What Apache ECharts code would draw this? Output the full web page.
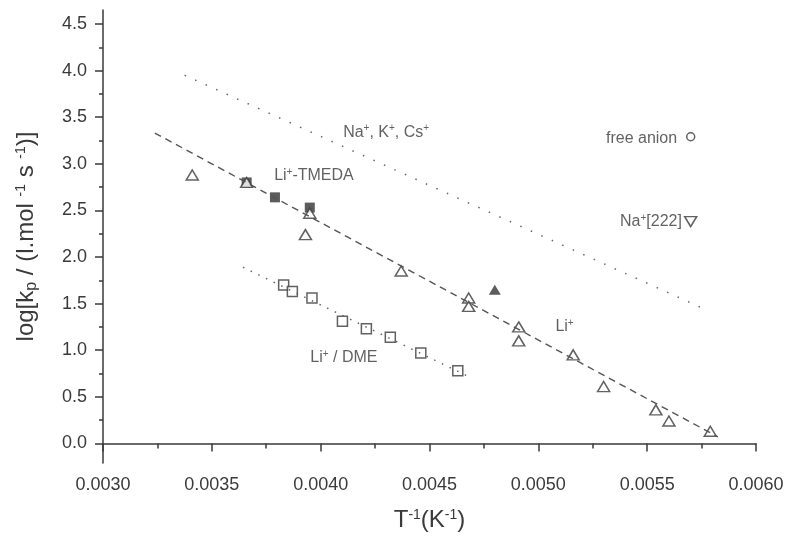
<!DOCTYPE html>
<html>
<head>
<meta charset="utf-8">
<script src="https://cdn.jsdelivr.net/npm/echarts@6/dist/echarts.min.js"></script>
<style>html,body{margin:0;padding:0;background:#fff;}#c{width:789px;height:538px;}</style>
</head>
<body>
<div id="c"></div>
<script>
// ---- data ----
const xTicks = [0.0030, 0.0035, 0.0040, 0.0045, 0.0050, 0.0055, 0.0060];
const yTicks = [0.0, 0.5, 1.0, 1.5, 2.0, 2.5, 3.0, 3.5, 4.0, 4.5];
const yMinorTicks = [0.25, 0.75, 1.25, 1.75, 2.25, 2.75, 3.25, 3.75, 4.25];

const liX = [0.00341, 0.00366, 0.00395, 0.00393, 0.00437, 0.00468, 0.00468, 0.00491, 0.00491, 0.00516, 0.00530, 0.00554, 0.00560, 0.00579];
const liY = [2.88, 2.80, 2.47, 2.24, 1.85, 1.56, 1.47, 1.25, 1.10, 0.95, 0.61, 0.36, 0.24, 0.13];

const liFilledX = [0.00480];
const liFilledY = [1.65];

const tmedaX = [0.00366, 0.00379, 0.00395];
const tmedaY = [2.80, 2.64, 2.53];

const dmeX = [0.00383, 0.00387, 0.00396, 0.00410, 0.00421, 0.00432, 0.00446, 0.00463];
const dmeY = [1.70, 1.63, 1.56, 1.31, 1.23, 1.14, 0.97, 0.78];

const freeAnionX = [0.00570];
const freeAnionY = [3.29];

const na222X = [0.00570];
const na222Y = [2.38];

const fitLiX = [0.003238, 0.005825];
const fitLiY = [3.33, 0.07];
const fitDmeX = [0.003643, 0.004677];
const fitDmeY = [1.89, 0.72];
const fitNaX = [0.003375, 0.005756];
const fitNaY = [3.95, 1.45];

const labelTexts = ['Na{sup|+}, K{sup|+}, Cs{sup|+}', 'Li{sup|+}-TMEDA', 'free anion', 'Na{sup|+}[222]', 'Li{sup|+}', 'Li{sup|+} / DME'];
const labelX = [0.004101, 0.003784, 0.005640, 0.005662, 0.005076, 0.003950];
const labelY = [3.34, 2.876, 3.27, 2.38, 1.257, 0.92];
const labelSide = ['right', 'right', 'left', 'left', 'right', 'right'];

// ---- helpers ----
const zip = (xs, ys) => xs.map((x, i) => [x, ys[i]]);
const INK = '#3a3a3a';
const FONT = '"Liberation Sans", Arial, sans-serif';
const supRich = {
  sup: { fontSize: 10, fontFamily: FONT, color: INK, padding: [0, 0, 7, 0] }
};

const chart = echarts.init(document.getElementById('c'), null, { renderer: 'canvas' });

const openStyle = { color: '#fff', borderColor: INK, borderWidth: 1.5 };

chart.setOption({
  animation: false,
  backgroundColor: '#fff',
  grid: { left: 103, right: 33, top: 10, bottom: 75, containLabel: false },
  xAxis: {
    type: 'value',
    min: xTicks[0], max: xTicks[xTicks.length - 1], interval: 0.0005,
    splitLine: { show: false },
    axisLine: { show: true, lineStyle: { color: INK, width: 1.5 } },
    axisTick: { show: true, inside: false, length: 8, lineStyle: { color: INK, width: 1.5 } },
    minorTick: { show: true, splitNumber: 2, length: 5, lineStyle: { color: INK, width: 1.5 } },
    axisLabel: { color: INK, fontSize: 18, fontFamily: FONT, margin: 13, formatter: v => v.toFixed(4) },
    name: 'T{sup|-1}(K{sup|-1})',
    nameLocation: 'middle', nameGap: 45,
    nameTextStyle: { color: INK, fontSize: 24, fontFamily: FONT, rich: { sup: { fontSize: 14, fontFamily: FONT, color: INK, padding: [0, 0, 10, 0] } } }
  },
  yAxis: [{
    type: 'value', min: -0.21, max: 4.65,
    splitLine: { show: false },
    axisLine: { show: true, lineStyle: { color: INK, width: 1.5 } },
    axisTick: { show: true, inside: false, length: 8, customValues: yTicks, lineStyle: { color: INK, width: 1.5 } },
    axisLabel: { color: INK, fontSize: 18, fontFamily: FONT, margin: 16, customValues: yTicks, formatter: v => v.toFixed(1) },
    name: 'log[k{sub|p} / (l.mol {sup|-1} s {sup|-1})]',
    nameLocation: 'middle', nameGap: 63, nameRotate: 90,
    nameTextStyle: { color: INK, fontSize: 24, fontFamily: FONT, rich: {
      sup: { fontSize: 14, fontFamily: FONT, color: INK, padding: [0, 0, 10, 0] },
      sub: { fontSize: 16, fontFamily: FONT, color: INK, padding: [12, 0, 0, 0] }
    } }
  }, {
    type: 'value', min: -0.21, max: 4.65, position: 'left', offset: 0,
    splitLine: { show: false },
    axisLine: { show: false },
    axisTick: { show: true, inside: false, length: 4, customValues: yMinorTicks, lineStyle: { color: INK, width: 1.5 } },
    axisLabel: { show: false }
  }],
  series: [
    { type: 'line', data: zip(fitNaX, fitNaY), symbol: 'none', silent: true,
      lineStyle: { color: '#666', width: 1.5, type: [1.5, 10] } },
    { type: 'line', data: zip(fitLiX, fitLiY), symbol: 'none', silent: true,
      lineStyle: { color: '#555', width: 1.4, type: [7, 5] } },
    { type: 'line', data: zip(fitDmeX, fitDmeY), symbol: 'none', silent: true,
      lineStyle: { color: '#666', width: 1.5, type: [1.5, 7] } },
    { type: 'scatter', data: zip(dmeX, dmeY), symbol: 'rect', symbolSize: 10, itemStyle: openStyle },
    { type: 'scatter', data: zip(tmedaX, tmedaY), symbol: 'rect', symbolSize: 10, itemStyle: { color: '#333' } },
    { type: 'scatter', data: zip(liX, liY), symbol: 'triangle', symbolSize: [12, 10], itemStyle: openStyle },
    { type: 'scatter', data: zip(liFilledX, liFilledY), symbol: 'triangle', symbolSize: [12, 10], itemStyle: { color: '#333' } },
    { type: 'scatter', data: zip(freeAnionX, freeAnionY), symbol: 'circle', symbolSize: 8, itemStyle: openStyle },
    { type: 'scatter', data: zip(na222X, na222Y), symbol: 'triangle', symbolRotate: 180, symbolSize: [12, 10], itemStyle: openStyle },
    { type: 'scatter', symbol: 'circle', symbolSize: 1, silent: true, z: 10,
      itemStyle: { color: 'rgba(0,0,0,0)' },
      data: labelTexts.map((t, i) => ({
        value: [labelX[i], labelY[i]], name: t,
        label: { position: labelSide[i] }
      })),
      label: { show: true, distance: 0, color: INK, fontSize: 16, fontFamily: FONT,
        formatter: p => p.name, rich: supRich }
    }
  ]
});
</script>
</body>
</html>
